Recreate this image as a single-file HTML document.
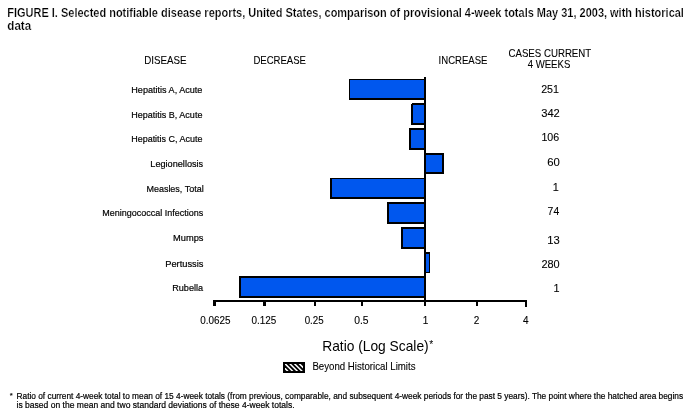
<!DOCTYPE html>
<html><head><meta charset="utf-8"><title>FIGURE I</title>
<style>html,body{margin:0;padding:0;background:#fff;}body{width:693px;height:417px;overflow:hidden;}svg{display:block;will-change:transform;}text{font-family:"Liberation Sans",sans-serif;fill:#000;}</style></head><body>
<svg width="693" height="417" viewBox="0 0 693 417">
<rect width="693" height="417" fill="#fff"/>
<g shape-rendering="crispEdges">
<rect x="349" y="79" width="76" height="21" fill="#000"/><rect x="350" y="80" width="75" height="18" fill="#0057ee"/>
<rect x="411" y="103" width="14" height="22" fill="#000"/><rect x="413" y="105" width="12" height="18" fill="#0057ee"/>
<rect x="411" y="103" width="1" height="1" fill="#fff"/>
<rect x="409" y="128" width="16" height="22" fill="#000"/><rect x="411" y="130" width="14" height="18" fill="#0057ee"/>
<rect x="425" y="153" width="19" height="21" fill="#000"/><rect x="425" y="155" width="17" height="17" fill="#0057ee"/>
<rect x="330" y="178" width="95" height="21" fill="#000"/><rect x="332" y="179" width="93" height="18" fill="#0057ee"/>
<rect x="387" y="202" width="38" height="22" fill="#000"/><rect x="389" y="204" width="36" height="18" fill="#0057ee"/>
<rect x="401" y="227" width="24" height="22" fill="#000"/><rect x="403" y="229" width="22" height="18" fill="#0057ee"/>
<rect x="425" y="252" width="5" height="21" fill="#000"/><rect x="425" y="254" width="4" height="18" fill="#0057ee"/>
<rect x="239" y="276" width="186" height="22" fill="#000"/><rect x="241" y="278" width="184" height="18" fill="#0057ee"/>
<rect x="424" y="77" width="2" height="229" fill="#000"/>
<rect x="213" y="300" width="314" height="2" fill="#000"/>
<rect x="213" y="300" width="3" height="6" fill="#000"/>
<rect x="263" y="300" width="3" height="6" fill="#000"/>
<rect x="314" y="300" width="2" height="6" fill="#000"/>
<rect x="361" y="300" width="2" height="6" fill="#000"/>
<rect x="476" y="300" width="2" height="6" fill="#000"/>
<rect x="525" y="300" width="2" height="7" fill="#000"/>
<rect x="283" y="362" width="22" height="11" fill="#000"/>
</g>
<clipPath id="lc"><rect x="285" y="364" width="18" height="7"/></clipPath>
<g clip-path="url(#lc)" stroke="#fff" stroke-width="1.5">
<line x1="279.6" y1="363" x2="288.6" y2="372"/>
<line x1="284.4" y1="363" x2="293.4" y2="372"/>
<line x1="289.1" y1="363" x2="298.1" y2="372"/>
<line x1="293.8" y1="363" x2="302.8" y2="372"/>
<line x1="298.6" y1="363" x2="307.6" y2="372"/>
</g>
<text x="7.30" y="16.8" font-size="12.1" font-weight="bold" stroke="#fff" stroke-width="0.22" textLength="676.60" lengthAdjust="spacingAndGlyphs">FIGURE I. Selected notifiable disease reports, United States, comparison of provisional 4-week totals May 31, 2003, with historical</text>
<text x="7.30" y="29.7" font-size="12.1" font-weight="bold" stroke="#fff" stroke-width="0.22" textLength="23.90" lengthAdjust="spacingAndGlyphs">data</text>
<text x="144.30" y="64" font-size="11.2" stroke="#000" stroke-width="0.1" textLength="42.30" lengthAdjust="spacingAndGlyphs">DISEASE</text>
<text x="253.40" y="64" font-size="11.2" stroke="#000" stroke-width="0.1" textLength="52.60" lengthAdjust="spacingAndGlyphs">DECREASE</text>
<text x="438.60" y="64" font-size="11.2" stroke="#000" stroke-width="0.1" textLength="48.80" lengthAdjust="spacingAndGlyphs">INCREASE</text>
<text x="508.50" y="57.2" font-size="11.2" stroke="#000" stroke-width="0.1" textLength="82.70" lengthAdjust="spacingAndGlyphs">CASES CURRENT</text>
<text x="527.70" y="68" font-size="11.2" stroke="#000" stroke-width="0.1" textLength="42.60" lengthAdjust="spacingAndGlyphs">4 WEEKS</text>
<text x="131.30" y="93" font-size="9.9" stroke="#000" stroke-width="0.2" textLength="71.10" lengthAdjust="spacingAndGlyphs">Hepatitis A, Acute</text>
<text x="131.30" y="118" font-size="9.9" stroke="#000" stroke-width="0.2" textLength="71.10" lengthAdjust="spacingAndGlyphs">Hepatitis B, Acute</text>
<text x="131.20" y="142" font-size="9.9" stroke="#000" stroke-width="0.2" textLength="71.30" lengthAdjust="spacingAndGlyphs">Hepatitis C, Acute</text>
<text x="150.30" y="167" font-size="9.9" stroke="#000" stroke-width="0.2" textLength="52.90" lengthAdjust="spacingAndGlyphs">Legionellosis</text>
<text x="146.40" y="192" font-size="9.9" stroke="#000" stroke-width="0.2" textLength="57.30" lengthAdjust="spacingAndGlyphs">Measles, Total</text>
<text x="102.30" y="216" font-size="9.9" stroke="#000" stroke-width="0.2" textLength="100.90" lengthAdjust="spacingAndGlyphs">Meningococcal Infections</text>
<text x="173.10" y="241.2" font-size="9.9" stroke="#000" stroke-width="0.2" textLength="30.40" lengthAdjust="spacingAndGlyphs">Mumps</text>
<text x="165.20" y="266.8" font-size="9.9" stroke="#000" stroke-width="0.2" textLength="38.30" lengthAdjust="spacingAndGlyphs">Pertussis</text>
<text x="172.20" y="291.2" font-size="9.9" stroke="#000" stroke-width="0.2" textLength="30.90" lengthAdjust="spacingAndGlyphs">Rubella</text>
<text x="541.20" y="93" font-size="11.1" stroke="#000" stroke-width="0.1" textLength="17.80" lengthAdjust="spacingAndGlyphs">251</text>
<text x="541.20" y="117.1" font-size="11.1" stroke="#000" stroke-width="0.1" textLength="18.60" lengthAdjust="spacingAndGlyphs">342</text>
<text x="541.40" y="141" font-size="11.1" stroke="#000" stroke-width="0.1" textLength="17.80" lengthAdjust="spacingAndGlyphs">106</text>
<text x="547.20" y="166" font-size="11.1" stroke="#000" stroke-width="0.1" textLength="12.60" lengthAdjust="spacingAndGlyphs">60</text>
<text x="552.79" y="191" font-size="11.1" stroke="#000" stroke-width="0.1" textLength="6.05" lengthAdjust="spacingAndGlyphs">1</text>
<text x="547.60" y="215" font-size="11.1" stroke="#000" stroke-width="0.1" textLength="11.60" lengthAdjust="spacingAndGlyphs">74</text>
<text x="547.20" y="243.8" font-size="11.1" stroke="#000" stroke-width="0.1" textLength="12.50" lengthAdjust="spacingAndGlyphs">13</text>
<text x="541.40" y="268.1" font-size="11.1" stroke="#000" stroke-width="0.1" textLength="18.30" lengthAdjust="spacingAndGlyphs">280</text>
<text x="553.60" y="291.9" font-size="11.1" stroke="#000" stroke-width="0.1" textLength="6.05" lengthAdjust="spacingAndGlyphs">1</text>
<text x="200.30" y="324" font-size="10.2" stroke="#000" stroke-width="0.1" textLength="30.30" lengthAdjust="spacingAndGlyphs">0.0625</text>
<text x="251.50" y="324" font-size="10.2" stroke="#000" stroke-width="0.1" textLength="24.80" lengthAdjust="spacingAndGlyphs">0.125</text>
<text x="304.70" y="324" font-size="10.2" stroke="#000" stroke-width="0.1" textLength="19.00" lengthAdjust="spacingAndGlyphs">0.25</text>
<text x="354.20" y="324" font-size="10.2" stroke="#000" stroke-width="0.1" textLength="14.40" lengthAdjust="spacingAndGlyphs">0.5</text>
<text x="422.75" y="324" font-size="10.2" stroke="#000" stroke-width="0.1" textLength="5.56" lengthAdjust="spacingAndGlyphs">1</text>
<text x="473.76" y="324" font-size="10.2" stroke="#000" stroke-width="0.1" textLength="5.56" lengthAdjust="spacingAndGlyphs">2</text>
<text x="522.96" y="324" font-size="10.2" stroke="#000" stroke-width="0.1" textLength="5.56" lengthAdjust="spacingAndGlyphs">4</text>
<text x="322.20" y="350.9" font-size="14.4" textLength="106.50" lengthAdjust="spacingAndGlyphs">Ratio (Log Scale)</text>
<text x="429.30" y="347.9" font-size="10.5" textLength="4.00" lengthAdjust="spacingAndGlyphs">*</text>
<text x="312.40" y="369.8" font-size="10.3" stroke="#000" stroke-width="0.1" textLength="103.10" lengthAdjust="spacingAndGlyphs">Beyond Historical Limits</text>
<text x="9.75" y="397.6" font-size="8" stroke="#000" stroke-width="0.1" textLength="3.05" lengthAdjust="spacingAndGlyphs">*</text>
<text x="16.50" y="398.7" font-size="8.85" stroke="#000" stroke-width="0.2" textLength="666.60" lengthAdjust="spacingAndGlyphs">Ratio of current 4-week total to mean of 15 4-week totals (from previous, comparable, and subsequent 4-week periods for the past 5 years). The point where the hatched area begins</text>
<text x="16.50" y="408.1" font-size="8.85" stroke="#000" stroke-width="0.2" textLength="278.10" lengthAdjust="spacingAndGlyphs">is based on the mean and two standard deviations of these 4-week totals.</text>
</svg></body></html>
